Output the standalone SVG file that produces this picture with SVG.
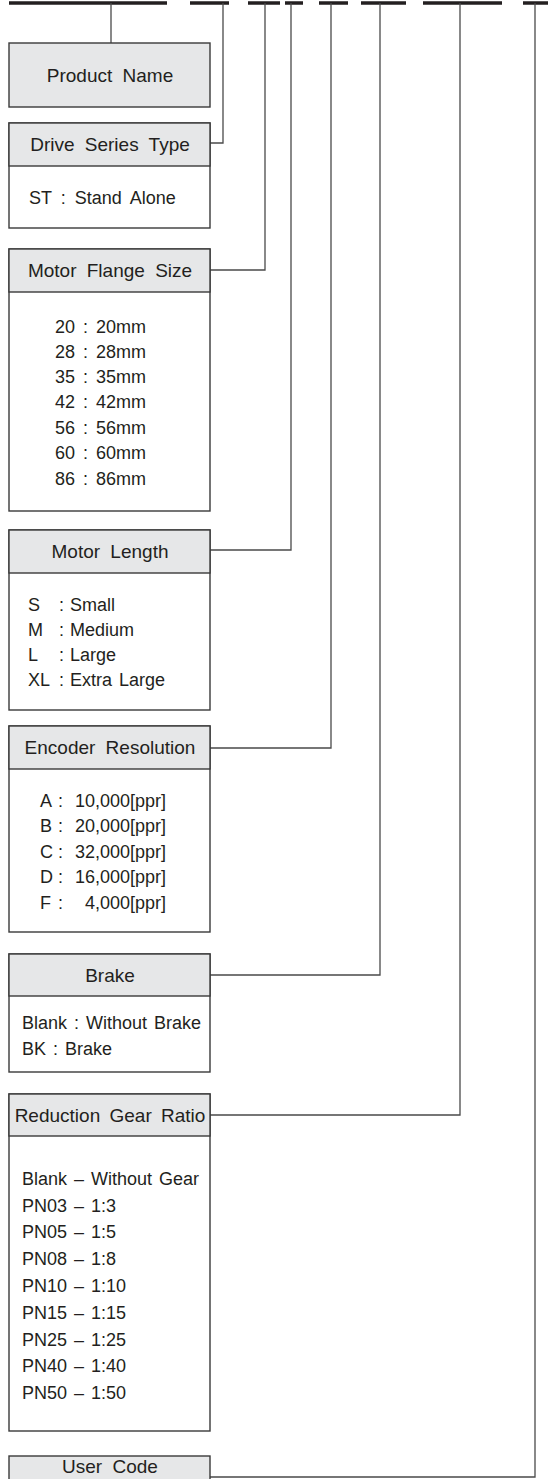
<svg xmlns="http://www.w3.org/2000/svg" width="548" height="1479" viewBox="0 0 548 1479">
<style>
.box{fill:#fff;stroke:#3a3a3a;stroke-width:1.4}
.hdr{fill:#e6e7e8;stroke:#3a3a3a;stroke-width:1.4}
.bar{stroke:#231f20;stroke-width:3.5;fill:none}
.con{stroke:#4a4a4a;stroke-width:1.3;fill:none}
text{font-family:"Liberation Sans",Arial,sans-serif;fill:#231f20}
.h{font-size:19px;text-anchor:middle;word-spacing:5px}
.t{font-size:18px;word-spacing:2px}
.e{text-anchor:end}
</style>
<rect width="548" height="1479" fill="#fff"/>
<g id="code-bars">
<line class="bar" x1="9" y1="3" x2="167" y2="3"/>
<line class="bar" x1="190" y1="3" x2="229" y2="3"/>
<line class="bar" x1="248" y1="3" x2="280" y2="3"/>
<line class="bar" x1="285" y1="3" x2="303" y2="3"/>
<line class="bar" x1="319" y1="3" x2="348" y2="3"/>
<line class="bar" x1="361" y1="3" x2="406" y2="3"/>
<line class="bar" x1="423" y1="3" x2="502" y2="3"/>
<line class="bar" x1="523" y1="3" x2="548" y2="3"/>
</g>
<g id="connectors">
<polyline class="con" points="111,3 111,43"/>
<polyline class="con" points="210,143 223,143 223,3"/>
<polyline class="con" points="210,270 265,270 265,3"/>
<polyline class="con" points="210,550 291,550 291,3"/>
<polyline class="con" points="210,748 331,748 331,3"/>
<polyline class="con" points="210,975 380,975 380,3"/>
<polyline class="con" points="210,1115 460,1115 460,3"/>
<polyline class="con" points="210,1477 535,1477 535,3"/>
</g>
<g id="product-name">
<rect class="hdr" x="9" y="43" width="201" height="64"/>
<text class="h" x="110" y="82">Product Name</text>
</g>
<g id="drive-series-type">
<rect class="box" x="9" y="123" width="201" height="105"/>
<rect class="hdr" x="9" y="123" width="201" height="43"/>
<text class="h" x="110" y="151">Drive Series Type</text>
<text class="t" x="29" y="204" style="word-spacing:4px">ST : Stand Alone</text>
</g>
<g id="motor-flange-size">
<rect class="box" x="9" y="249" width="201" height="262"/>
<rect class="hdr" x="9" y="249" width="201" height="43"/>
<text class="h" x="110" y="277">Motor Flange Size</text>
<text class="t" x="55" y="333">20</text><text class="t" x="83" y="333">:</text><text class="t" x="96" y="333">20mm</text>
<text class="t" x="55" y="358">28</text><text class="t" x="83" y="358">:</text><text class="t" x="96" y="358">28mm</text>
<text class="t" x="55" y="383">35</text><text class="t" x="83" y="383">:</text><text class="t" x="96" y="383">35mm</text>
<text class="t" x="55" y="408">42</text><text class="t" x="83" y="408">:</text><text class="t" x="96" y="408">42mm</text>
<text class="t" x="55" y="434">56</text><text class="t" x="83" y="434">:</text><text class="t" x="96" y="434">56mm</text>
<text class="t" x="55" y="459">60</text><text class="t" x="83" y="459">:</text><text class="t" x="96" y="459">60mm</text>
<text class="t" x="55" y="485">86</text><text class="t" x="83" y="485">:</text><text class="t" x="96" y="485">86mm</text>
</g>
<g id="motor-length">
<rect class="box" x="9" y="530" width="201" height="180"/>
<rect class="hdr" x="9" y="530" width="201" height="43"/>
<text class="h" x="110" y="558">Motor Length</text>
<text class="t" x="28" y="611">S</text><text class="t" x="59" y="611">:</text><text class="t" x="70" y="611">Small</text>
<text class="t" x="28" y="636">M</text><text class="t" x="59" y="636">:</text><text class="t" x="70" y="636">Medium</text>
<text class="t" x="28" y="661">L</text><text class="t" x="59" y="661">:</text><text class="t" x="70" y="661">Large</text>
<text class="t" x="28" y="686">XL</text><text class="t" x="59" y="686">:</text><text class="t" x="70" y="686">Extra Large</text>
</g>
<g id="encoder-resolution">
<rect class="box" x="9" y="726" width="201" height="206"/>
<rect class="hdr" x="9" y="726" width="201" height="43"/>
<text class="h" x="110" y="754">Encoder Resolution</text>
<text class="t" x="40" y="807">A</text><text class="t" x="58" y="807">:</text><text class="t e" x="166" y="807">10,000[ppr]</text>
<text class="t" x="40" y="832">B</text><text class="t" x="58" y="832">:</text><text class="t e" x="166" y="832">20,000[ppr]</text>
<text class="t" x="40" y="858">C</text><text class="t" x="58" y="858">:</text><text class="t e" x="166" y="858">32,000[ppr]</text>
<text class="t" x="40" y="883">D</text><text class="t" x="58" y="883">:</text><text class="t e" x="166" y="883">16,000[ppr]</text>
<text class="t" x="40" y="909">F</text><text class="t" x="58" y="909">:</text><text class="t e" x="166" y="909">4,000[ppr]</text>
</g>
<g id="brake">
<rect class="box" x="9" y="954" width="201" height="118"/>
<rect class="hdr" x="9" y="954" width="201" height="42"/>
<text class="h" x="110" y="982">Brake</text>
<text class="t" x="22" y="1029">Blank : Without Brake</text>
<text class="t" x="22" y="1055">BK : Brake</text>
</g>
<g id="reduction-gear-ratio">
<rect class="box" x="9" y="1094" width="201" height="337"/>
<rect class="hdr" x="9" y="1094" width="201" height="42"/>
<text class="h" x="110" y="1122" style="word-spacing:4px">Reduction Gear Ratio</text>
<text class="t" x="22" y="1185">Blank – Without Gear</text>
<text class="t" x="22" y="1212">PN03 – 1:3</text>
<text class="t" x="22" y="1238">PN05 – 1:5</text>
<text class="t" x="22" y="1265">PN08 – 1:8</text>
<text class="t" x="22" y="1292">PN10 – 1:10</text>
<text class="t" x="22" y="1319">PN15 – 1:15</text>
<text class="t" x="22" y="1346">PN25 – 1:25</text>
<text class="t" x="22" y="1372">PN40 – 1:40</text>
<text class="t" x="22" y="1399">PN50 – 1:50</text>
</g>
<g id="user-code">
<rect class="hdr" x="9" y="1456" width="201" height="40"/>
<text class="h" x="110" y="1473">User Code</text>
</g>
</svg>
